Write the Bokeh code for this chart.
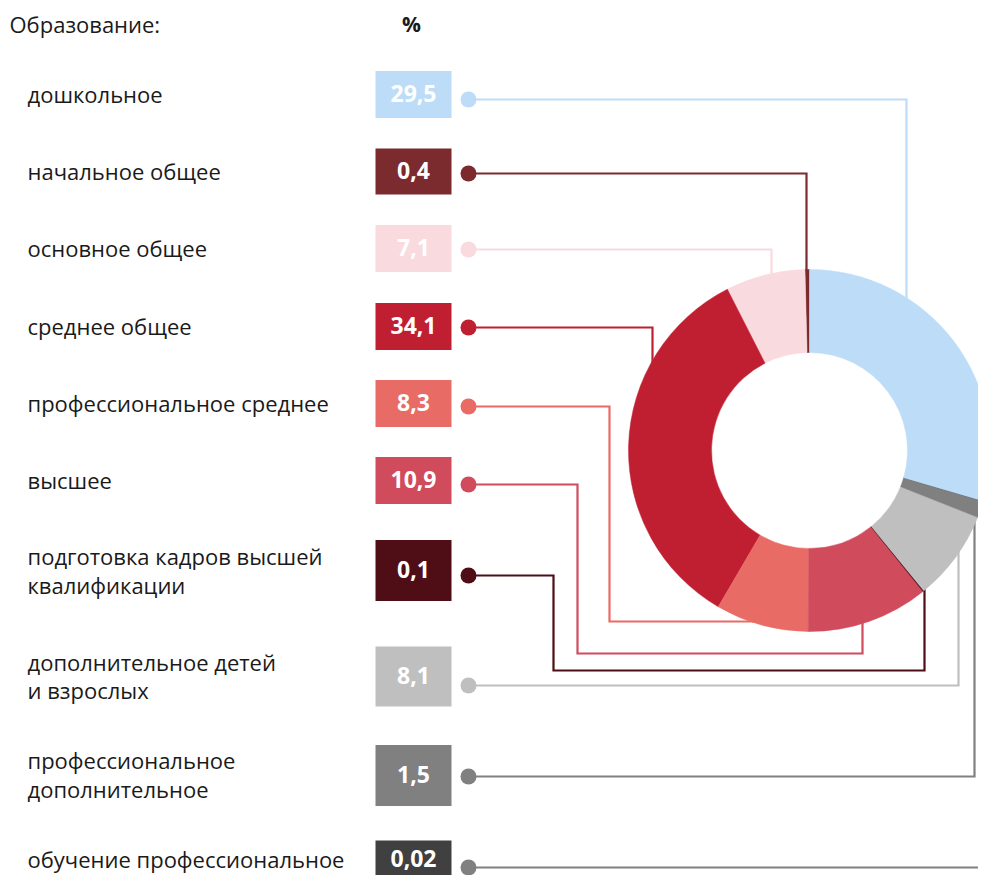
import math
from bokeh.plotting import figure
from bokeh.models import Range1d, ColumnDataSource
from bokeh.embed import file_html
from bokeh.resources import INLINE
from bokeh.core.properties import value

# ---------------- data ----------------
title_text = "Образование:"
unit_text = "%"
categories = [
    "дошкольное",
    "начальное общее",
    "основное общее",
    "среднее общее",
    "профессиональное среднее",
    "высшее",
    "подготовка кадров высшей\nквалификации",
    "дополнительное детей\nи взрослых",
    "профессиональное\nдополнительное",
    "обучение профессиональное",
]
shares = [29.5, 0.4, 7.1, 34.1, 8.3, 10.9, 0.1, 8.1, 1.5, 0.02]
share_labels = ["29,5", "0,4", "7,1", "34,1", "8,3", "10,9", "0,1", "8,1", "1,5", "0,02"]
colors = ["#bddcf8", "#7b2b2e", "#f8dadf", "#c01f32", "#e96b66",
          "#d04b5c", "#4f0d16", "#bfbfbf", "#808080", "#404040"]
line_colors = ["#bddcf8", "#7b2b2e", "#f8dadf", "#c01f32", "#e96b66",
               "#d04b5c", "#4f0d16", "#bfbfbf", "#808080", "#808080"]

# ---------------- layout (screen pixels) ----------------
W, H = 978, 875
TEXT_DY = 9   # renderer places alphabetic baseline slightly lower


def sx(x):
    return x


def sy(y):
    return H - y


def ty(y):
    return H - (y - TEXT_DY)


row_center = [94, 171, 248, 326, 403, 480, 570, 676, 775, 863]
row_height = [47, 46, 47, 47, 47, 47, 61, 60, 61, 46]
value_base = [102, 179, 256, 334, 411, 488, 578, 684, 783, 867]
label_base = [[102], [179], [256], [334], [411], [488],
              [564, 593], [670, 698], [768, 797], [867]]
dot_y = [99, 173, 249, 327, 406, 484, 575, 685, 776, 867]
dot_x = 468
box_x0, box_x1 = 375, 451
label_x = 27
CX, CY, R_OUT, R_IN = 809, 450, 181, 98

# connector elbows: alternating x (horizontal move), y (vertical move)
elbows = [[906], [806], [771], [652], [609, 621], [577, 653, 862],
          [553, 670, 924], [958], [974], [995]]
ends = ["top", "top", "top", "top", "left", "bottom", "bottom", "bottom", "bottom", "none"]

p = figure(width=W, height=H, output_backend="svg", toolbar_location=None,
           x_range=Range1d(0, W), y_range=Range1d(0, H),
           x_axis_type=None, y_axis_type=None, min_border=0)
p.outline_line_color = None
p.grid.visible = False
p.background_fill_color = "white"

# ---------------- connectors ----------------
xs, ys = [], []
r_end = R_OUT - 3
for i in range(len(categories)):
    px, py = dot_x, dot_y[i]
    ptsx, ptsy = [px], [py]
    horiz = True
    for e in elbows[i]:
        if horiz:
            px = e
        else:
            py = e
        ptsx.append(px)
        ptsy.append(py)
        horiz = not horiz
    if ends[i] in ("top", "bottom"):
        d = math.sqrt(max(r_end ** 2 - (px - CX) ** 2, 0))
        py = CY - d if ends[i] == "top" else CY + d
        ptsx.append(px)
        ptsy.append(py)
    elif ends[i] == "left":
        d = math.sqrt(max(r_end ** 2 - (py - CY) ** 2, 0))
        px = CX - d
        ptsx.append(px)
        ptsy.append(py)
    xs.append([sx(v) for v in ptsx])
    ys.append([sy(v) for v in ptsy])

p.multi_line(xs=xs, ys=ys, line_color=line_colors, line_width=2.2, line_join="miter")
p.scatter(x=[sx(dot_x)] * len(categories), y=[sy(v) for v in dot_y],
          size=16, color=line_colors, line_width=0)

# ---------------- donut ----------------
total = sum(shares)
order = list(range(1, len(shares))) + [0]
starts, endsang, wcol = [], [], []
acc = math.pi / 2
for i in order:
    a = shares[i] / total * 2 * math.pi
    starts.append(acc)
    endsang.append(acc + a)
    wcol.append(colors[i])
    acc += a
donut = ColumnDataSource(dict(start=starts, end=endsang, color=wcol))
p.annular_wedge(x=sx(CX), y=sy(CY), inner_radius=R_IN, outer_radius=R_OUT,
                start_angle="start", end_angle="end", color="color",
                line_color="color", line_width=0.5, source=donut)

# ---------------- boxes ----------------
p.rect(x=[sx((box_x0 + box_x1) / 2)] * len(categories),
       y=[sy(c) for c in row_center],
       width=box_x1 - box_x0, height=row_height, color=colors, line_width=0)
p.text(x=[sx((box_x0 + box_x1) / 2)] * len(categories),
       y=[ty(b) for b in value_base], text=share_labels,
       text_color="white", text_font=value("Open Sans"), text_font_style="bold",
       text_font_size="23px", text_align="center", text_baseline="alphabetic")

# ---------------- labels ----------------
lx, ly, lt = [], [], []
for i, cat in enumerate(categories):
    for ln, b in zip(cat.split("\n"), label_base[i]):
        lx.append(sx(label_x))
        ly.append(ty(b))
        lt.append(ln)
p.text(x=lx, y=ly, text=lt, text_color="#1a1a1a", text_font=value("Open Sans"),
       text_font_size="22px", text_align="left", text_baseline="alphabetic")

p.text(x=[sx(9)], y=[ty(32)], text=[title_text], text_color="#1a1a1a",
       text_font=value("Open Sans"), text_font_size="22px",
       text_align="left", text_baseline="alphabetic")
p.text(x=[sx(411)], y=[ty(32)], text=[unit_text], text_color="#1a1a1a",
       text_font=value("Open Sans"), text_font_style="bold", text_font_size="21px",
       text_align="center", text_baseline="alphabetic")

open("out.html", "w").write(file_html(p, INLINE))
